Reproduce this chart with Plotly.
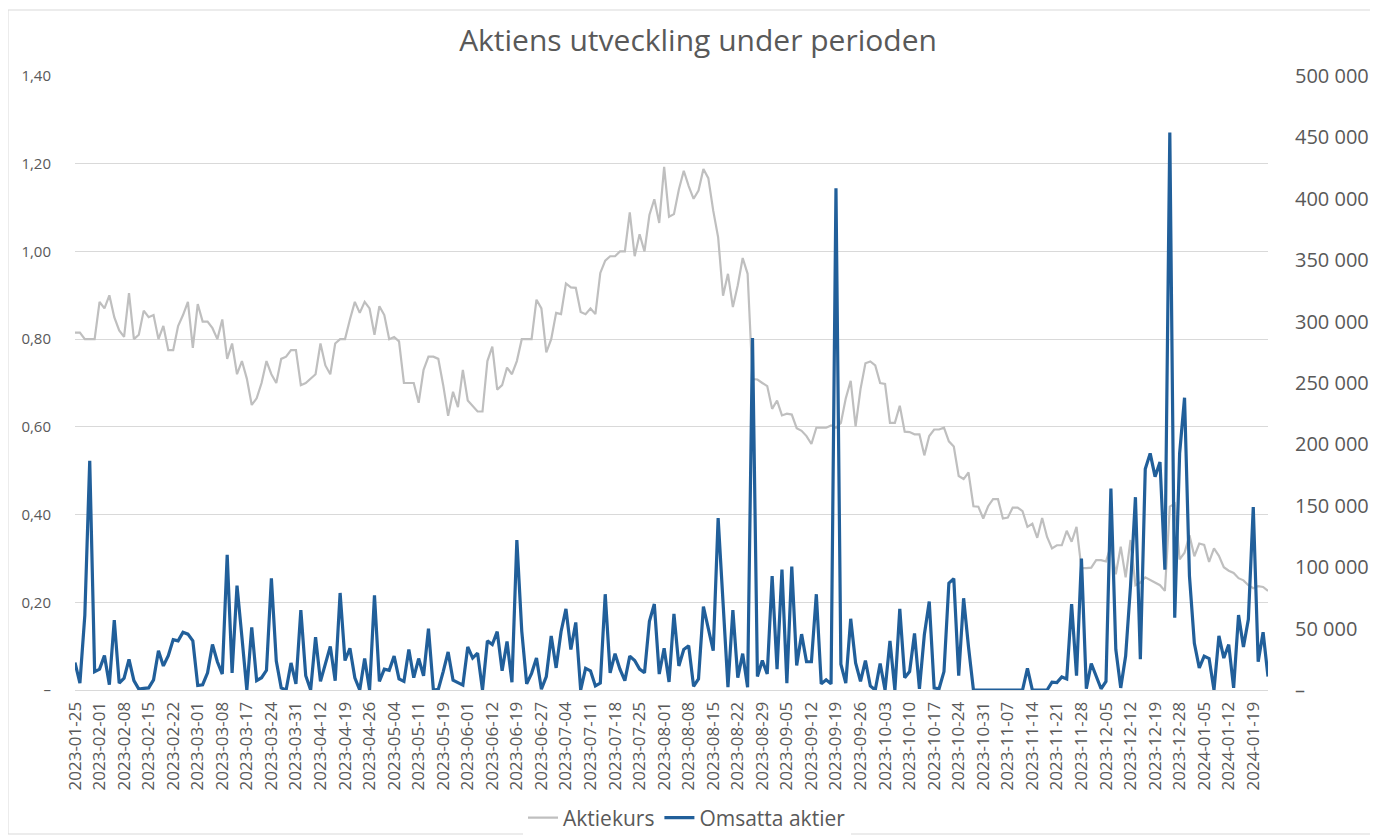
import plotly.graph_objects as go

# Tick labels on the category axis (every 5th trading day)
date_labels = [
    "2023-01-25", "2023-02-01", "2023-02-08", "2023-02-15", "2023-02-22", "2023-03-01",
    "2023-03-08", "2023-03-17", "2023-03-24", "2023-03-31", "2023-04-12", "2023-04-19",
    "2023-04-26", "2023-05-04", "2023-05-11", "2023-05-19", "2023-06-01", "2023-06-12",
    "2023-06-19", "2023-06-27", "2023-07-04", "2023-07-11", "2023-07-18", "2023-07-25",
    "2023-08-01", "2023-08-08", "2023-08-15", "2023-08-22", "2023-08-29", "2023-09-05",
    "2023-09-12", "2023-09-19", "2023-09-26", "2023-10-03", "2023-10-10", "2023-10-17",
    "2023-10-24", "2023-10-31", "2023-11-07", "2023-11-14", "2023-11-21", "2023-11-28",
    "2023-12-05", "2023-12-12", "2023-12-19", "2023-12-28", "2024-01-05", "2024-01-12",
    "2024-01-19",
]
label_step = 5

# Aktiekurs (SEK), one value per trading day
aktiekurs = [
    0.815, 0.815, 0.80, 0.80, 0.80, 0.885, 0.87, 0.90, 0.85, 0.82,
    0.805, 0.905, 0.80, 0.81, 0.865, 0.85, 0.855, 0.80, 0.83, 0.775,
    0.775, 0.83, 0.855, 0.885, 0.78, 0.88, 0.84, 0.84, 0.825, 0.80,
    0.845, 0.755, 0.79, 0.72, 0.75, 0.71, 0.65, 0.665, 0.70, 0.75,
    0.72, 0.70, 0.755, 0.76, 0.775, 0.775, 0.695, 0.70, 0.71, 0.72,
    0.79, 0.74, 0.72, 0.79, 0.80, 0.80, 0.845, 0.885, 0.86, 0.885,
    0.87, 0.81, 0.875, 0.855, 0.80, 0.805, 0.795, 0.70, 0.70, 0.70,
    0.655, 0.73, 0.76, 0.76, 0.755, 0.695, 0.625, 0.68, 0.645, 0.73,
    0.66, 0.648, 0.635, 0.635, 0.75, 0.783, 0.685, 0.695, 0.735, 0.72,
    0.75, 0.80, 0.80, 0.80, 0.89, 0.87, 0.77, 0.80, 0.86, 0.857,
    0.927, 0.918, 0.917, 0.862, 0.857, 0.87, 0.857, 0.951, 0.979, 0.989,
    0.989, 1.0, 1.0, 1.089, 0.989, 1.039, 1.0, 1.083, 1.119, 1.065,
    1.193, 1.079, 1.085, 1.141, 1.184, 1.149, 1.12, 1.139, 1.188, 1.167,
    1.093, 1.032, 0.899, 0.949, 0.873, 0.923, 0.985, 0.949, 0.709, 0.708,
    0.70, 0.693, 0.641, 0.66, 0.626, 0.63, 0.628, 0.597, 0.591, 0.579,
    0.561, 0.598, 0.598, 0.598, 0.603, 0.598, 0.609, 0.665, 0.705, 0.601,
    0.686, 0.745, 0.749, 0.74, 0.70, 0.698, 0.609, 0.609, 0.648, 0.589,
    0.588, 0.583, 0.583, 0.535, 0.579, 0.594, 0.594, 0.598, 0.567, 0.555,
    0.488, 0.481, 0.496, 0.419, 0.418, 0.391, 0.419, 0.435, 0.435, 0.391,
    0.393, 0.416, 0.416, 0.408, 0.372, 0.379, 0.347, 0.392, 0.349, 0.323,
    0.330, 0.330, 0.363, 0.338, 0.372, 0.278, 0.278, 0.279, 0.296, 0.296,
    0.293, 0.33, 0.264, 0.327, 0.257, 0.342, 0.239, 0.245, 0.257, 0.251,
    0.245, 0.239, 0.226, 0.418, 0.425, 0.298, 0.313, 0.353, 0.305, 0.334,
    0.331, 0.292, 0.323, 0.306, 0.28, 0.272, 0.267, 0.255, 0.25, 0.239,
    0.232, 0.237, 0.235, 0.226,
]

# Omsatta aktier (antal), one value per trading day
omsatta_aktier = [
    22300, 5600, 60800, 186700, 15000, 17000, 28000, 4300, 57000, 5600,
    9600, 25000, 7600, 700, 1300, 1700, 8300, 32000, 19600, 28000,
    41000, 40000, 47000, 45500, 40000, 3700, 4300, 14000, 37000, 23000,
    13000, 110000, 14000, 85000, 43000, 0, 51000, 7600, 10000, 16000,
    91000, 23600, 1700, 0, 22000, 5000, 65000, 11600, 0, 43000,
    7000, 21000, 35500, 7600, 79000, 24000, 34000, 10000, 0, 25600,
    0, 77000, 7000, 17000, 16000, 27600, 9000, 7000, 33000, 10000,
    25600, 11600, 50000, 0, 500, 15000, 31000, 8000, 6000, 4000,
    35000, 26000, 30000, 0, 40000, 37000, 47500, 15600, 39500, 6300,
    122000, 48000, 5000, 13600, 26000, 700, 11000, 44000, 18000, 47500,
    66000, 33000, 55000, 0, 17600, 15600, 3300, 5600, 78000, 14000,
    29600, 17000, 7600, 27600, 24000, 17000, 14000, 56000, 70000, 13000,
    34000, 6600, 62000, 19600, 33000, 36000, 3000, 9000, 68000, 50000,
    32000, 140000, 71000, 2300, 65000, 10000, 29600, 2300, 286700, 11000,
    24000, 13000, 92700, 17000, 98000, 5600, 100600, 20000, 45500, 23000,
    23000, 78000, 5000, 8300, 5000, 408600, 21000, 5600, 58000, 22000,
    7000, 24000, 3300, 0, 21600, 0, 40000, 0, 66000, 10000,
    15000, 46000, 1000, 45000, 72000, 1700, 1000, 15000, 87000, 90700,
    11600, 74700, 35000, 0, 0, 0, 0, 0, 0, 0,
    0, 0, 0, 0, 17600, 0, 0, 0, 0, 6300,
    6000, 10600, 9000, 70000, 11600, 107000, 1000, 21600, 11000, 1000,
    7000, 164000, 33000, 1700, 27600, 84700, 157000, 25000, 180000, 192700,
    173700, 185700, 98000, 454000, 58800, 192700, 238000, 93000, 38000, 18000,
    27600, 25600, 0, 44000, 26000, 37000, 1700, 61000, 35000, 57500,
    149000, 23000, 47000, 11000,
]

left_tick_vals = [0, 0.2, 0.4, 0.6, 0.8, 1.0, 1.2, 1.4]
left_tick_text = ["–", "0,20", "0,40", "0,60", "0,80", "1,00", "1,20", "1,40"]
right_tick_vals = [0, 50000, 100000, 150000, 200000, 250000, 300000, 350000, 400000, 450000, 500000]
right_tick_text = ["–", "50 000", "100 000", "150 000", "200 000", "250 000",
                   "300 000", "350 000", "400 000", "450 000", "500 000"]

FONT = "Open Sans, Lato, sans-serif"
TXT = "#595959"
GRID = "#d9d9d9"

x_idx = list(range(len(aktiekurs)))
tick_pos = [i * label_step for i in range(len(date_labels))]

fig = go.Figure()
fig.add_trace(go.Scatter(
    x=x_idx, y=aktiekurs, name="Aktiekurs", mode="lines",
    line=dict(color="#bfbfbf", width=2.2), yaxis="y",
))
fig.add_trace(go.Scatter(
    x=x_idx, y=omsatta_aktier, name="Omsatta aktier", mode="lines",
    line=dict(color="#215f9a", width=3.2), yaxis="y2",
))

# The page body has an 8px margin, so the figure is drawn 8px in from the
# window's top-left corner; sizes below are in figure pixels.
OFF = 8
W, H = 1378 - OFF, 835 - OFF
plot_left, plot_right, plot_top, plot_bottom = 75 - OFF, 1268 - OFF, 76 - OFF, 690 - OFF
L, R, T, B = plot_left, W - plot_right, plot_top, H - plot_bottom
pw, ph = plot_right - plot_left, plot_bottom - plot_top


def px(X):
    return (X - OFF - plot_left) / pw


def py(Y):
    return (plot_bottom - (Y - OFF)) / ph


fig.update_layout(
    width=W, height=H,
    margin=dict(l=L, r=R, t=T, b=B, autoexpand=False),
    paper_bgcolor="white", plot_bgcolor="white",
    font=dict(family=FONT, color=TXT),
    title=dict(text="Aktiens utveckling under perioden", x=(698 - OFF) / W, xref="container",
               xanchor="center", y=1 - (40 - OFF) / H, yref="container", yanchor="middle",
               font=dict(size=30, color=TXT, family=FONT)),
    xaxis=dict(
        range=[0, len(aktiekurs) - 1], tickmode="array", tickvals=tick_pos,
        ticktext=date_labels, tickangle=-90, tickfont=dict(size=17, color=TXT),
        showgrid=False, zeroline=False, showline=True, linecolor=GRID, linewidth=1,
        ticks="", ticklabelstandoff=4,
    ),
    yaxis=dict(
        range=[0, 1.4], tickmode="array", tickvals=left_tick_vals, ticktext=left_tick_text,
        showgrid=True, gridcolor=GRID, gridwidth=1, zeroline=False,
        tickfont=dict(size=15, color=TXT), ticks="", ticklabelstandoff=23,
    ),
    yaxis2=dict(
        range=[0, 500000], tickmode="array", tickvals=right_tick_vals, ticktext=right_tick_text,
        overlaying="y", side="right", showgrid=False, zeroline=False,
        tickfont=dict(size=20, color=TXT), ticks="", ticklabelstandoff=26,
    ),
    legend=dict(orientation="h", x=(687 - OFF) / W, xref="container", xanchor="center",
                y=1 - (818 - OFF) / H, yref="container", yanchor="middle",
                font=dict(size=21, color=TXT), itemwidth=30, traceorder="normal"),
    shapes=[dict(type="rect", xref="paper", yref="paper",
                 x0=px(8), x1=px(1376), y0=py(834), y1=py(10),
                 line=dict(color=GRID, width=1), fillcolor="rgba(0,0,0,0)", layer="below")],
)

fig.write_html("out.html")
